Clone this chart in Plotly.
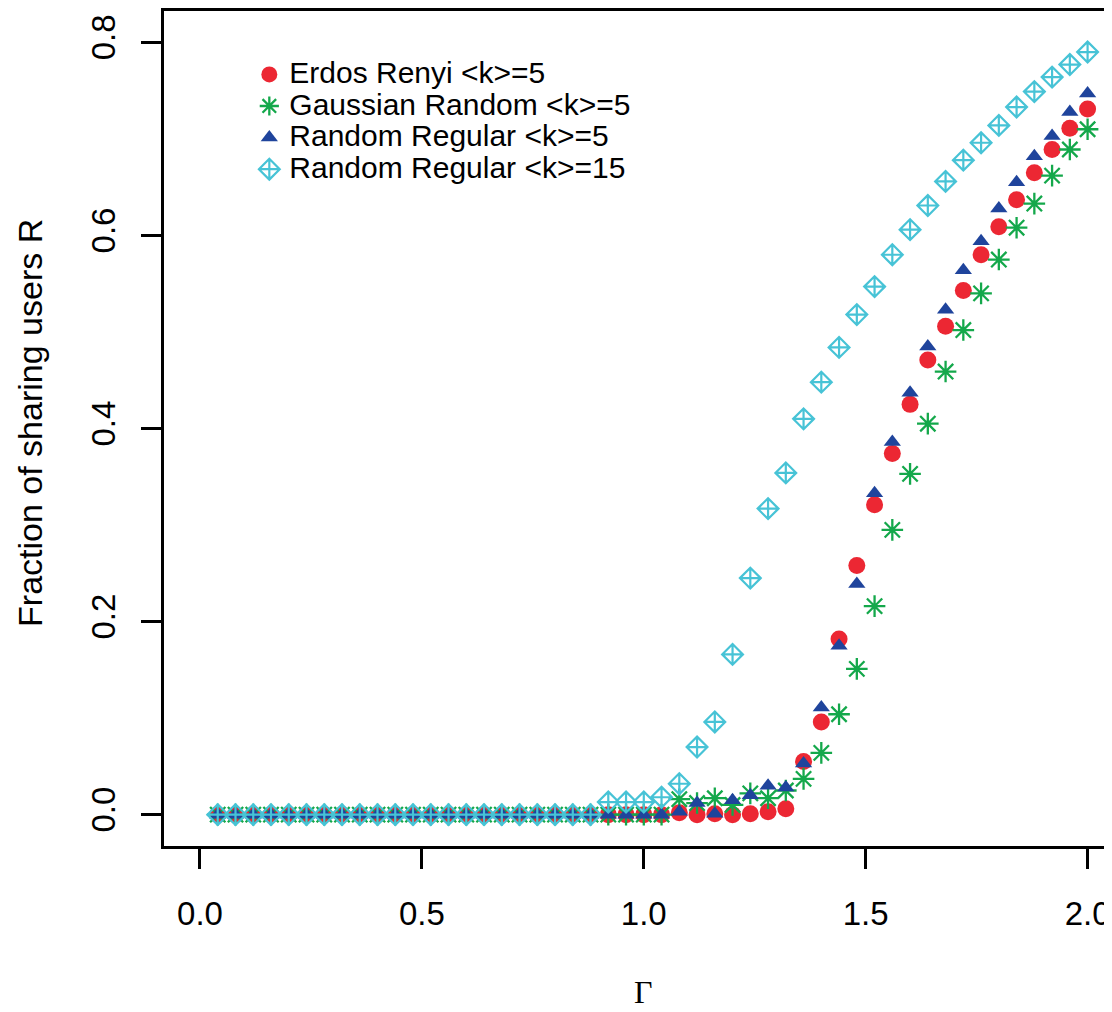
import plotly.graph_objects as go

gamma = [0.04, 0.08, 0.12, 0.16, 0.20, 0.24, 0.28, 0.32, 0.36, 0.40,
         0.44, 0.48, 0.52, 0.56, 0.60, 0.64, 0.68, 0.72, 0.76, 0.80,
         0.84, 0.88, 0.92, 0.96, 1.00, 1.04, 1.08, 1.12, 1.16, 1.20,
         1.24, 1.28, 1.32, 1.36, 1.40, 1.44, 1.48, 1.52, 1.56, 1.60,
         1.64, 1.68, 1.72, 1.76, 1.80, 1.84, 1.88, 1.92, 1.96, 2.00]

erdos_renyi_k5 = [0, 0, 0, 0, 0, 0, 0, 0, 0, 0,
                  0, 0, 0, 0, 0, 0, 0, 0, 0, 0,
                  0, 0, 0, 0, 0, 0, 0.002, 0, 0.001, 0,
                  0.001, 0.003, 0.006, 0.055, 0.096, 0.182, 0.258, 0.321, 0.374, 0.425,
                  0.471, 0.506, 0.543, 0.580, 0.609, 0.637, 0.665, 0.689, 0.711, 0.731]

gaussian_k5 = [0, 0, 0, 0, 0, 0, 0, 0, 0, 0,
               0, 0, 0, 0, 0, 0, 0, 0, 0, 0,
               0, 0, 0, 0, 0, 0, 0.016, 0.012, 0.017, 0.010,
               0.022, 0.017, 0.025, 0.037, 0.064, 0.104, 0.151, 0.216, 0.295, 0.353,
               0.405, 0.459, 0.502, 0.540, 0.575, 0.608, 0.633, 0.662, 0.689, 0.710]

regular_k5 = [0, 0, 0, 0, 0, 0, 0, 0, 0, 0,
              0, 0, 0, 0, 0, 0, 0, 0, 0, 0,
              0, 0, 0, 0, 0, 0, 0.003, 0.012, 0.001, 0.015,
              0.020, 0.030, 0.028, 0.053, 0.111, 0.175, 0.239, 0.333, 0.386, 0.437,
              0.485, 0.523, 0.564, 0.594, 0.628, 0.655, 0.682, 0.703, 0.728, 0.747]

regular_k15 = [0, 0, 0, 0, 0, 0, 0, 0, 0, 0,
               0, 0, 0, 0, 0, 0, 0, 0, 0, 0,
               0, 0, 0.013, 0.013, 0.013, 0.018, 0.032, 0.070, 0.096, 0.166,
               0.245, 0.317, 0.354, 0.410, 0.448, 0.484, 0.518, 0.547, 0.580, 0.606,
               0.631, 0.656, 0.678, 0.696, 0.714, 0.733, 0.749, 0.764, 0.777, 0.790]

series_names = ["Erdos Renyi &lt;k&gt;=5", "Gaussian Random &lt;k&gt;=5",
                "Random Regular &lt;k&gt;=5", "Random Regular &lt;k&gt;=15"]

x_ticks = [0.0, 0.5, 1.0, 1.5, 2.0]
x_tick_labels = ["0.0", "0.5", "1.0", "1.5", "2.0"]
y_ticks = [0.0, 0.2, 0.4, 0.6, 0.8]
y_tick_labels = ["0.0", "0.2", "0.4", "0.6", "0.8"]

RED = "#EC2733"
GREEN = "#14A84B"
BLUE = "#1F449C"
CYAN = "#47C3D6"
FONT = "Liberation Sans, Arial, Helvetica, sans-serif"


def lname(s):
    return "<span style='font-size:30px'>" + s + "</span>"


fig = go.Figure()
fig.add_trace(go.Scatter(
    x=gamma, y=erdos_renyi_k5, mode="markers", name=lname(series_names[0]),
    marker=dict(symbol="circle", size=17, color=RED, line=dict(width=0))))
fig.add_trace(go.Scatter(
    x=gamma, y=gaussian_k5, mode="markers", name=lname(series_names[1]),
    marker=dict(symbol="asterisk-open", size=18, color=GREEN,
                line=dict(color=GREEN, width=2.3))))
fig.add_trace(go.Scatter(
    x=gamma, y=regular_k5, mode="markers", name=lname(series_names[2]),
    marker=dict(symbol="triangle-up", size=15, color=BLUE, line=dict(width=0))))
fig.add_trace(go.Scatter(
    x=gamma, y=regular_k15, mode="markers", name=lname(series_names[3]),
    marker=dict(symbol="diamond-cross-open", size=16, color=CYAN,
                line=dict(color=CYAN, width=2.2))))

# The page body has an 8px margin, so the figure is sized/offset to compensate.
fig.update_layout(
    width=1104, height=1004,
    margin=dict(l=156, r=0, t=1, b=166, pad=0),
    paper_bgcolor="white", plot_bgcolor="white",
    font=dict(family=FONT, size=32, color="black"),
    showlegend=True,
    legend=dict(x=0.09, y=0.949, xanchor="left", yanchor="top",
                bgcolor="rgba(0,0,0,0)", borderwidth=0,
                font=dict(family=FONT, size=22, color="black"),
                itemsizing="trace"),
    annotations=[
        dict(text="Γ", xref="paper", yref="paper", x=0.506, y=-0.1745,
             xanchor="center", yanchor="middle", showarrow=False,
             font=dict(family="Liberation Serif, Times New Roman, serif", size=32, color="black")),
        dict(text="Fraction of sharing users R", xref="paper", yref="paper",
             x=-0.1414, y=0.5066, xanchor="center", yanchor="middle",
             textangle=-90, showarrow=False,
             font=dict(family=FONT, size=34, color="black")),
    ],
)

fig.update_xaxes(
    range=[-0.0811, 2.055], tickmode="array", tickvals=x_ticks, ticktext=x_tick_labels,
    showgrid=False, zeroline=False, showline=True, linecolor="black", linewidth=2.5,
    mirror=True, ticks="outside", ticklen=20, tickwidth=2.5, tickcolor="black",
    ticklabelstandoff=17, tickfont=dict(family=FONT, size=33, color="black"))
fig.update_yaxes(
    range=[-0.0325, 0.8325], tickmode="array", tickvals=y_ticks, ticktext=y_tick_labels,
    showgrid=False, zeroline=False, showline=True, linecolor="black", linewidth=2.5,
    mirror=False, ticks="outside", ticklen=20, tickwidth=2.5, tickcolor="black",
    tickangle=-90, ticklabelstandoff=13, tickfont=dict(family=FONT, size=33, color="black"))

fig.write_html("out.html")
